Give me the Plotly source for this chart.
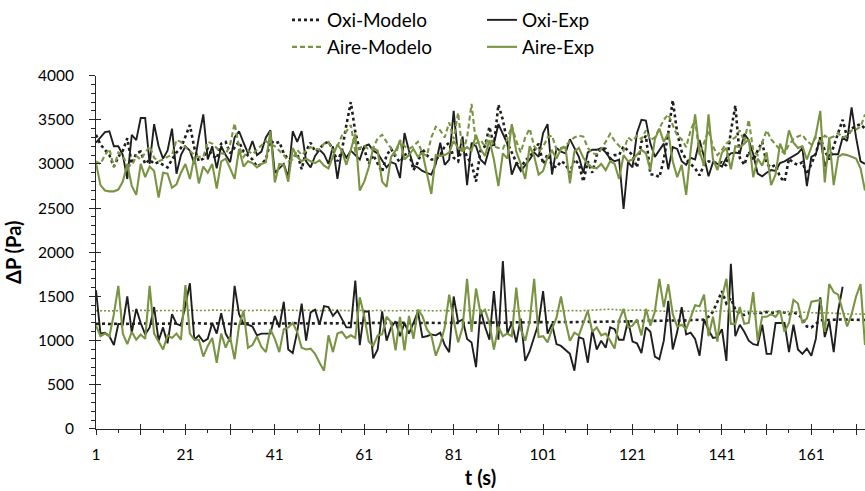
import plotly.graph_objects as go

# ---------------------------------------------------------------- data
t = list(range(1, 174))

# upper group: pressure drop around 3000-3500 Pa
oxi_modelo_hi = [
    3330, 3220, 3160, 3100, 2970, 3080, 3150, 3290, 3000, 3120,
    3140, 3000, 3050, 3000, 3020, 2990, 2960, 3050, 3130, 3180,
    3300, 3440, 3180, 3030, 3060, 3180, 3100, 3060, 3230, 3250,
    3120, 3180, 3250, 3140, 3090, 3050, 2970, 3000, 3050, 3260,
    3230, 3250, 3120, 3050, 3070, 3120, 2940, 3150, 3240, 3140,
    3170, 3230, 3250, 3160, 3030, 3150, 3440, 3700, 3360, 3150,
    3170, 3000, 3100, 3000, 2910, 3100, 3170, 3080, 3020, 3100,
    3130, 2930, 3020, 3170, 3100, 3050, 3050, 3100, 3200, 3240,
    3070, 3030, 3200, 3080, 3000, 2800, 3150, 3200, 3420, 3200,
    3670, 3500, 3240, 3130, 3020, 2950, 3040, 3080, 3150, 3230,
    3000, 3110, 2980, 2960, 3030, 3000, 2900, 3050, 3000, 2800,
    3030, 2900, 3100, 3180, 3170, 3060, 3100, 3100, 3200, 3150,
    3100, 2960, 3250, 3320, 2880, 2880, 2850, 3050, 3350, 3720,
    3350, 3140, 3050, 3000, 2950, 2870, 2990, 3030, 3020, 3010,
    3020, 2980, 3370, 3660, 3070, 2990, 3140, 3040, 3150, 3250,
    3000, 2960, 2990, 2850, 2800, 3060, 3010, 2990, 3020, 2880,
    3000, 3120, 3300, 3150, 3050, 3200, 3350, 3500, 3300, 3400,
    3430, 3450, 3400,
]

oxi_exp_hi = [
    3240, 3300, 3360, 3370, 3200, 3200, 3100, 2830, 3330, 3270,
    3520, 3520, 3000, 3450, 3200, 3060, 3150, 3400, 2890, 3100,
    3200, 3150, 3000, 3300, 3560, 3050, 3200, 2950, 3200, 3100,
    3020, 3300, 3370, 3240, 3120, 3260, 3100, 3140, 3300, 3380,
    2900, 2950, 3000, 2850, 3370, 3250, 3370, 3030, 2960, 3090,
    3160, 3110, 3000, 3200, 2830, 3160, 3070, 3150, 3100, 3050,
    3200, 3220, 3150, 3120, 3040, 2960, 3020, 3000, 2840, 3350,
    3150, 2980, 2960, 2920, 2900, 2880, 3000, 3240, 2990, 3050,
    3600, 3080, 3310, 2760, 3240, 3200, 3050, 3000, 3180, 3230,
    3450, 3330, 3230, 2880, 3010, 2920, 2980, 3050, 3130, 3080,
    3350, 3450, 2880, 3180, 3140, 3120, 3280, 3170, 3080, 2900,
    3130, 3160, 3160, 3180, 3130, 3060, 3030, 3050, 2490, 3020,
    2960, 3350, 3500, 3490, 3230, 3080, 3150, 3230, 2940, 3190,
    3170, 3030, 2990, 3070, 3050, 3270, 3080, 2860, 3020, 3000,
    2970, 3070, 3120, 3130, 3120, 3340, 3270, 3110, 2890, 2860,
    2900, 2930, 2920, 3010, 3030, 3060, 3090, 3120, 3180, 2750,
    3080, 3110, 3300, 2970, 3100, 3110, 3110, 3300, 3260, 3640,
    3300, 3030, 3000,
]

aire_modelo_hi = [
    3030, 3000, 3100, 3170, 2960, 3130, 3090, 2990, 2980, 3090,
    3050, 3130, 3200, 3070, 3030, 3050, 3080, 3100, 3270, 3250,
    3190, 3150, 3100, 3080, 3080, 3250, 3230, 3180, 3120, 3110,
    3220, 3460, 3190, 3080, 3150, 3110, 3160, 3200, 3260, 3220,
    3200, 3150, 3100, 3030, 3050, 3160, 3100, 3150, 3190, 3170,
    3160, 3230, 3250, 3150, 3200, 3320, 3370, 3440, 3140, 3180,
    3210, 3160, 3180, 3290, 3330, 3250, 3180, 3100, 3270, 3200,
    3170, 3200, 3250, 3120, 3090, 3300, 3420, 3380, 3300, 3470,
    3280, 3580, 3120, 3300, 3680, 3230, 3270, 3200, 3330, 3200,
    3180, 3170, 3280, 3430, 3260, 3130, 3300, 3400, 3200, 3140,
    3190, 3300, 3320, 3160, 3180, 3200, 3260, 3300, 3320, 3310,
    3180, 3120, 3110, 3170, 3250, 3340, 3260, 3200, 3150, 3300,
    3260, 3320, 3280, 3380, 3270, 3300, 3400, 3500, 3560, 3450,
    3320, 3280, 3190, 3380, 3500, 3100, 3250, 3380, 3200, 3100,
    3160, 3230, 3270, 3300, 3380, 3250, 3500, 3150, 3100, 3250,
    3380, 3280, 3220, 3160, 3120, 3220, 3280, 3310, 3330, 3260,
    3220, 3300, 3250, 3320, 3290, 3310, 3350, 3300, 3320, 3380,
    3390, 3420, 3560,
]

aire_exp_hi = [
    3010, 2760, 2700, 2690, 2690, 2710, 2800, 3000, 2750, 2650,
    3000, 2850, 2970, 2920, 2620, 2900, 2890, 2730, 2770, 2900,
    3000, 2830, 3080, 2780, 2970, 2900, 3000, 2720, 3030, 3060,
    2950, 2830, 3170, 2970, 3030, 3010, 2960, 3000, 3020, 3370,
    2790, 3000, 2990, 2800, 3180, 3080, 3030, 3060, 3030, 3010,
    3040, 2980, 2950, 3080, 3220, 3150, 2990, 3160, 3340, 2700,
    2800, 2960, 3180, 3150, 2800, 2740, 3080, 3150, 3260, 3050,
    3100, 3170, 3080, 3130, 2900, 2660, 3100, 3090, 3100, 3130,
    3260, 3180, 3150, 3190, 3150, 3330, 3170, 3090, 3270, 3050,
    2750, 3120, 3060, 3450, 3140, 3000, 2830, 3200, 3090, 2880,
    2920, 3080, 3150, 3060, 3170, 3190, 2780, 3140, 3180, 3070,
    3000, 2960, 2950, 3000, 2930, 3030, 3000, 2830, 3100, 3030,
    3050, 3110, 3160, 3120, 2930, 3280, 3400, 3250, 3350, 3030,
    2850, 2990, 2650, 3150, 3560, 3140, 2980, 3560, 3050, 2930,
    3130, 3180, 2940, 3200, 3190, 3230, 3280, 2850, 3060, 2980,
    3130, 2760, 2880, 3230, 3110, 3380, 3240, 3180, 3200, 3050,
    3190, 3330, 3600, 2790, 3300, 2760, 3080, 3110, 3100, 3080,
    3060, 2950, 2700,
]

# lower group: pressure drop around 1000-1500 Pa
oxi_modelo_lo = [
    1190, 1195, 1192, 1188, 1190, 1196, 1193, 1190, 1187, 1192,
    1195, 1198, 1194, 1190, 1192, 1189, 1193, 1197, 1195, 1191,
    1190, 1194, 1198, 1196, 1192, 1188, 1191, 1195, 1198, 1194,
    1190, 1193, 1196, 1199, 1195, 1192, 1190, 1194, 1197, 1200,
    1196, 1193, 1190, 1195, 1198, 1201, 1197, 1194, 1192, 1196,
    1199, 1202, 1198, 1195, 1193, 1197, 1200, 1203, 1199, 1196,
    1194, 1198, 1201, 1204, 1200, 1197, 1195, 1199, 1202, 1205,
    1201, 1198, 1200, 1203, 1206, 1202, 1199, 1201, 1204, 1207,
    1203, 1200, 1202, 1205, 1208, 1204, 1201, 1203, 1207, 1210,
    1206, 1203, 1205, 1209, 1212, 1208, 1205, 1207, 1211, 1214,
    1210, 1207, 1209, 1213, 1216, 1212, 1209, 1211, 1215, 1218,
    1214, 1211, 1214, 1218, 1221, 1217, 1214, 1217, 1221, 1224,
    1220, 1217, 1221, 1225, 1228, 1224, 1221, 1225, 1229, 1232,
    1228, 1225, 1229, 1233, 1236, 1232, 1240, 1270, 1330, 1440,
    1560, 1420, 1480, 1350, 1300, 1290, 1310, 1300, 1320, 1310,
    1325, 1315, 1320, 1330, 1318, 1300, 1320, 1300, 1250, 1160,
    1150, 1190, 1230, 1232, 1238, 1236, 1240, 1238, 1242, 1240,
    1238, 1236, 1234,
]

oxi_exp_lo = [
    1570, 1080, 1090, 1050, 950, 1190, 1180, 1500, 1090, 1360,
    1200, 1070, 1150, 1380, 1000, 1150, 970, 1300, 1190, 1170,
    1400, 1650, 1010, 1060, 990, 1020, 1200, 1080, 1310, 1080,
    990, 1620, 1300, 1190, 1180, 1160, 1060, 1080, 1080, 1080,
    1280, 1150, 1440, 900, 860, 1100, 1420, 1000, 1320, 1350,
    1180, 1390, 1380, 1280, 1340, 1240, 1150, 1150, 1680, 950,
    1330, 1330, 800, 900, 1330, 1000, 1150, 1220, 1050, 1200,
    1080, 1200, 1330, 1040, 1050, 1070, 1060, 1090, 950, 870,
    1500, 1210, 1240, 1020, 980, 700, 1350, 1160, 1010, 1560,
    1010, 1900, 1080, 1200, 980, 1250, 770, 880, 1040, 1200,
    1560, 1080, 1190, 960, 940, 890, 850, 660, 1040, 1020,
    750, 1120, 900, 1000, 920, 1150, 1130, 1010, 1010, 1230,
    990, 970, 860, 1150, 1100, 820, 790, 1000, 1450, 900,
    1100, 1380, 1070, 1090, 1020, 830, 1240, 1120, 1030, 1040,
    1130, 770, 1870, 1050, 1180, 1100, 1000, 960, 950, 1180,
    850, 850, 1200, 1200, 1200, 870, 1180, 900, 850, 910,
    830, 1020, 1490, 1040, 1220, 870, 1340, 1610, None, None,
    None, None, None,
]

aire_modelo_lo = [
    1340, 1342, 1338, 1336, 1340, 1344, 1341, 1337, 1335, 1339,
    1343, 1340, 1336, 1334, 1338, 1342, 1345, 1341, 1338, 1340,
    1344, 1348, 1345, 1341, 1338, 1342, 1346, 1343, 1339, 1337,
    1341, 1345, 1342, 1338, 1336, 1340, 1344, 1347, 1343, 1340,
    1338, 1342, 1346, 1343, 1339, 1336, 1340, 1345, 1348, 1344,
    1340, 1337, 1341, 1345, 1342, 1338, 1335, 1339, 1343, 1340,
    1336, 1334, 1338, 1342, 1339, 1335, 1333, 1337, 1341, 1338,
    1334, 1338, 1342, 1345, 1341, 1337, 1340, 1344, 1341, 1337,
    1340, 1344, 1347, 1343, 1339, 1342, 1346, 1350, 1346, 1342,
    1339, 1343, 1340, 1336, 1333, 1337, 1341, 1338, 1334, 1336,
    1340, 1343, 1339, 1335, 1338, 1342, 1345, 1341, 1337, 1340,
    1344, 1347, 1350, 1355, 1360, 1356, 1352, 1348, 1345, 1342,
    1346, 1349, 1345, 1341, 1338, 1342, 1339, 1335, 1332, 1336,
    1340, 1337, 1333, 1330, 1334, 1338, 1335, 1331, 1328, 1332,
    1336, 1333, 1329, 1326, 1330, 1334, 1331, 1327, 1324, 1328,
    1332, 1329, 1325, 1322, 1326, 1330, 1327, 1323, 1320, 1324,
    1320, 1316, 1312, 1316, 1312, 1308, 1304, 1308, 1304, 1300,
    1302, 1298, 1300,
]

aire_exp_lo = [
    1170, 1050, 1080, 1050, 1300, 1620, 1080, 960, 1100, 1010,
    1070, 1020, 1620, 1080, 990, 900, 1060, 1030, 1080, 1010,
    1630, 1080, 1010, 1010, 820, 940, 1030, 750, 1080, 920,
    1040, 790, 1170, 1340, 920, 950, 1050, 930, 870, 1130,
    1020, 870, 1130, 1150, 1200, 1100, 920, 900, 910, 850,
    750, 660, 1060, 870, 1080, 1100, 1030, 1060, 1030, 1490,
    1280, 990, 940, 1060, 1070, 1270, 1210, 890, 1270, 890,
    1280, 1020, 1350, 1280, 1130, 1060, 830, 960, 1150, 1520,
    1230, 980, 1150, 1700, 1100, 1590, 1310, 1350, 1200, 900,
    1160, 1050, 1080, 1050, 1600, 1130, 1000, 1220, 1700, 1040,
    1050, 980, 1130, 1260, 1500, 1220, 1000, 1090, 1060, 1200,
    1340, 1100, 1150, 1060, 1080, 1000, 910, 1230, 1360, 1150,
    1170, 1240, 1060, 1360, 1170, 1330, 1700, 1380, 1640, 1300,
    1160, 1180, 1130, 1260, 1400, 1390, 1520, 1050, 1270, 990,
    1480, 1700, 1190, 1190, 1380, 1190, 1200, 1550, 1000, 1270,
    1270, 1300, 1270, 1340, 1100, 1200, 1460, 1420, 1200, 1250,
    1440, 1450, 1460, 1100, 1640, 1550, 1520, 1340, 1160, 1300,
    1500, 1640, 950,
]

x_major_ticks = [1, 11, 21, 31, 41, 51, 61, 71, 81, 91, 101, 111, 121, 131, 141, 151, 161, 171]
x_tick_labels = ["1", "", "21", "", "41", "", "61", "", "81", "", "101", "", "121", "", "141", "", "161", ""]
y_major_ticks = [0, 500, 1000, 1500, 2000, 2500, 3000, 3500, 4000]

# ---------------------------------------------------------------- style
BLACK = "#1f1f1f"
OLIVE = "#7a9443"
AXIS = "#262626"
FONT = "Lato, 'Liberation Sans', sans-serif"
X_RANGE = [1, 173]
Y_RANGE = [0, 4000]

fig = go.Figure()


def add_line(y, name, color, width, dash, legend="legend", show=False):
    fig.add_trace(go.Scatter(
        x=t, y=y, name=name, mode="lines",
        line=dict(color=color, width=width, dash=dash),
        showlegend=show, legend=legend, hoverinfo="skip",
        connectgaps=False,
    ))


# lower group (no legend entries)
add_line(oxi_modelo_lo, "Oxi-Modelo", BLACK, 2.6, "3px,3px")
add_line(aire_modelo_lo, "Aire-Modelo", OLIVE, 1.6, "2px,2px")
add_line(oxi_exp_lo, "Oxi-Exp", BLACK, 1.9, "solid")
add_line(aire_exp_lo, "Aire-Exp", OLIVE, 2.1, "solid")

# upper group (legend entries)
add_line(oxi_modelo_hi, "Oxi-Modelo", BLACK, 2.6, "3px,3px", "legend", True)
add_line(oxi_exp_hi, "Oxi-Exp", BLACK, 1.9, "solid", "legend", True)
add_line(aire_modelo_hi, "Aire-Modelo", OLIVE, 2.1, "5px,3px", "legend2", True)
add_line(aire_exp_hi, "Aire-Exp", OLIVE, 2.1, "solid", "legend2", True)

# helper trace for the overlay axes that draw the inner half of the crossing ticks
fig.add_trace(go.Scatter(x=[X_RANGE[0]], y=[Y_RANGE[0]], mode="markers",
                         marker=dict(opacity=0), xaxis="x2", yaxis="y2",
                         showlegend=False, hoverinfo="skip"))

tick_font = dict(family=FONT, size=15.5, color="#000000")
title_font = dict(family=FONT, size=20, color="#000000")

legend_common = dict(
    orientation="h", xref="container", yref="container",
    xanchor="left", yanchor="middle",
    font=dict(family=FONT, size=19, color="#000000"),
    entrywidth=150, entrywidthmode="pixels",
    bgcolor="rgba(0,0,0,0)", borderwidth=0,
    itemwidth=30, tracegroupgap=0,
)

fig.update_layout(
    width=865, height=491,
    margin=dict(l=96, r=0, t=49, b=62),
    paper_bgcolor="white", plot_bgcolor="white",
    showlegend=True,
    legend=dict(legend_common, x=287 / 865, y=1 - 20 / 491),
    legend2=dict(legend_common, x=287 / 865, y=1 - 47 / 491),
    xaxis=dict(
        range=X_RANGE, showgrid=False, zeroline=False,
        showline=True, linecolor=AXIS, linewidth=1,
        tickmode="array", tickvals=x_major_ticks, ticktext=x_tick_labels,
        ticks="outside", ticklen=5, tickcolor=AXIS, tickwidth=1,
        minor=dict(tickmode="linear", tick0=1, dtick=5, ticks="outside",
                   ticklen=3, tickcolor=AXIS, tickwidth=1),
        tickfont=tick_font, ticklabelstandoff=6,
        title=dict(text="<b>t (s)</b>", font=title_font, standoff=9),
    ),
    yaxis=dict(
        range=Y_RANGE, showgrid=False, zeroline=False,
        showline=True, linecolor=AXIS, linewidth=1,
        tickmode="array", tickvals=y_major_ticks,
        ticks="outside", ticklen=6, tickcolor=AXIS, tickwidth=1,
        minor=dict(tickmode="linear", tick0=0, dtick=100, ticks="outside",
                   ticklen=4, tickcolor=AXIS, tickwidth=1),
        tickfont=tick_font, ticklabelstandoff=12,
        title=dict(text="<b>ΔP (Pa)</b>", font=title_font, standoff=10),
    ),
    xaxis2=dict(
        overlaying="x", anchor="y2", side="bottom", range=X_RANGE,
        showgrid=False, zeroline=False, showline=False,
        tickmode="array", tickvals=x_major_ticks, showticklabels=False,
        ticks="inside", ticklen=5, tickcolor=AXIS, tickwidth=1,
    ),
    yaxis2=dict(
        overlaying="y", anchor="x2", side="left", range=Y_RANGE,
        showgrid=False, zeroline=False, showline=False,
        tickmode="array", tickvals=y_major_ticks, showticklabels=False,
        ticks="inside", ticklen=5, tickcolor=AXIS, tickwidth=1,
    ),
)

fig.write_html("out.html")
